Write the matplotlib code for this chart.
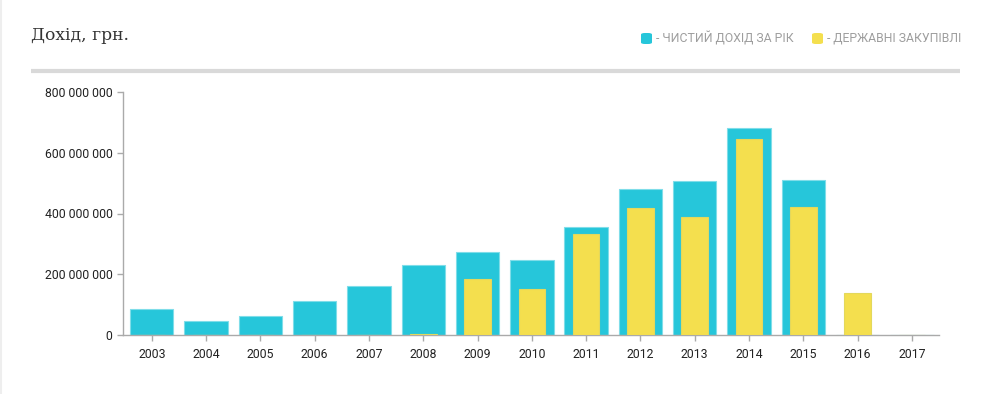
import matplotlib.pyplot as plt
from matplotlib.patches import FancyBboxPatch
from matplotlib.ticker import FuncFormatter
import numpy as np

years = ['2003', '2004', '2005', '2006', '2007', '2008', '2009', '2010',
         '2011', '2012', '2013', '2014', '2015', '2016', '2017']
# net annual income, UAH
net_income = [85e6, 45e6, 61e6, 111e6, 160e6, 229e6, 274e6, 248e6,
              356e6, 482e6, 508e6, 682e6, 509e6, 0, 0]
# public procurement, UAH
procurement = [0, 0, 0, 0, 0, 3e6, 185e6, 150e6,
               331e6, 419e6, 389e6, 646e6, 420e6, 137e6, 0]

CYAN = '#26C6DA'
YELLOW = '#F4DF4E'

plt.rcParams['font.family'] = ['Roboto', 'DejaVu Sans']

W, H = 989, 394
fig = plt.figure(figsize=(W / 100, H / 100), dpi=100)

ax = fig.add_axes([123 / W, (H - 335) / H, (939 - 123) / W, (335 - 92) / H])
x = np.arange(len(years))
ax.bar(x, net_income, width=0.8, color=CYAN, edgecolor='#7FDDE9', linewidth=0.8, zorder=2)
ax.bar(x, procurement, width=0.49, color=YELLOW, edgecolor='#E3D85C', linewidth=0.8, zorder=3)

ax.set_xlim(-0.53, len(years) - 0.5)
ax.set_ylim(0, 800e6)
ax.set_xticks(x)
ax.set_xticklabels(years)
ax.set_yticks([0, 200e6, 400e6, 600e6, 800e6])
ax.yaxis.set_major_formatter(FuncFormatter(lambda v, p: f'{int(v):,}'.replace(',', ' ')))

for s in ['top', 'right']:
    ax.spines[s].set_visible(False)
for s in ['left', 'bottom']:
    ax.spines[s].set_color('#aaaaaa')
    ax.spines[s].set_linewidth(1)
ax.tick_params(axis='both', colors='#aaaaaa', labelcolor='#222222', labelsize=8.8, length=4, width=1)
ax.tick_params(axis='x', pad=5)

# title and separator
fig.text(31 / W, 1 - 36 / H, 'Дохід, грн.', fontsize=12.3, color='#333333',
         family=['DejaVu Serif'], va='center', ha='left')
fig.add_artist(plt.Line2D([31 / W, 960 / W], [1 - 71 / H, 1 - 71 / H],
                          color='#d9d9d9', linewidth=3, solid_capstyle='butt',
                          transform=fig.transFigure))
# page border on the left
fig.add_artist(plt.Line2D([1 / W, 1 / W], [0, 1], color='#eeeeee', linewidth=1.5,
                          transform=fig.transFigure))

# legend
legend_items = [(641, CYAN, '- ЧИСТИЙ ДОХІД ЗА РІК'), (812, YELLOW, '- ДЕРЖАВНІ ЗАКУПІВЛІ')]
for px, col, label in legend_items:
    box = FancyBboxPatch((px / W, 1 - 44 / H), 11 / W, 11 / H,
                         boxstyle='round,pad=0,rounding_size=0.004',
                         facecolor=col, edgecolor='none', transform=fig.transFigure)
    fig.add_artist(box)
    fig.text((px + 15) / W, 1 - 38.5 / H, label, fontsize=8.8, color='#9e9e9e',
             va='center', ha='left')

fig.savefig('out.png', dpi=100)
